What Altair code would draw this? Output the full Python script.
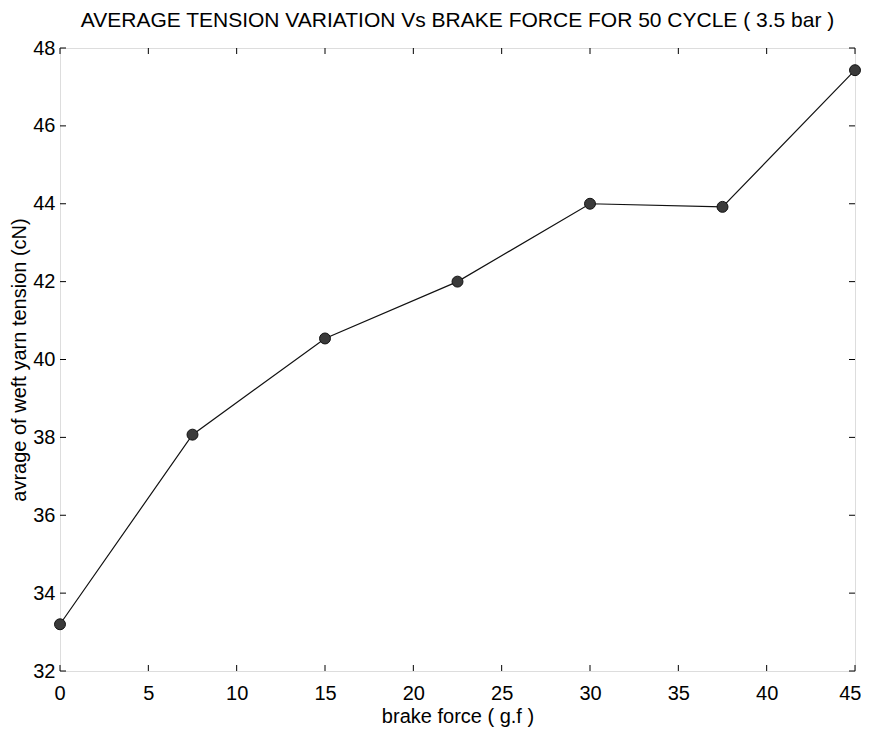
import altair as alt
import pandas as pd

# Data
brake_force = [0, 7.5, 15, 22.5, 30, 37.5, 45]
avg_tension = [33.2, 38.07, 40.54, 42.0, 44.0, 43.92, 47.43]
x_tick_values = [0, 5, 10, 15, 20, 25, 30, 35, 40, 45]
y_tick_values = [32, 34, 36, 38, 40, 42, 44, 46, 48]

title_text = "AVERAGE TENSION VARIATION  Vs  BRAKE FORCE FOR 50 CYCLE ( 3.5 bar )"
x_title = "brake force ( g.f )"
y_title = "avrage of weft yarn tension (cN)"

W, H = 795, 623
FONT = "Liberation Sans"
TICK = 6

df = pd.DataFrame({"x": brake_force, "y": avg_tension})
xt = pd.DataFrame({"v": x_tick_values})
yt = pd.DataFrame({"v": y_tick_values})

xscale = alt.Scale(domain=[0, 45], nice=False, zero=False)
yscale = alt.Scale(domain=[32, 48], nice=False, zero=False)

xaxis = alt.Axis(values=x_tick_values, title=x_title, ticks=False, domain=False, grid=False,
                 labelFont=FONT, labelFontSize=20, labelColor="black", labelPadding=12,
                 labelFlush=1, labelFlushOffset=6,
                 titleFont=FONT, titleFontSize=20, titleFontWeight="normal", titleColor="black",
                 titlePadding=3)
yaxis = alt.Axis(values=y_tick_values, title=y_title, ticks=False, domain=False, grid=False,
                 labelFont=FONT, labelFontSize=20, labelColor="black", labelPadding=5,
                 labelFlush=False,
                 titleFont=FONT, titleFontSize=20, titleFontWeight="normal", titleColor="black",
                 titlePadding=3)

X = lambda f: alt.X(f, scale=xscale, axis=xaxis)
Y = lambda f: alt.Y(f, scale=yscale, axis=yaxis)

line = alt.Chart(df).mark_line(color="#111111", strokeWidth=1.2).encode(x=X("x:Q"), y=Y("y:Q"))
points = alt.Chart(df).mark_circle(size=120, color="#3a3a3a", opacity=1,
                                   stroke="#111111", strokeWidth=1).encode(x=X("x:Q"), y=Y("y:Q"))

xt_bottom = alt.Chart(xt).mark_rule(color="black", strokeWidth=1).encode(
    x=X("v:Q"), y=alt.value(H), y2=alt.value(H - TICK))
xt_top = alt.Chart(xt).mark_rule(color="black", strokeWidth=1).encode(
    x=X("v:Q"), y=alt.value(0), y2=alt.value(TICK))
yt_left = alt.Chart(yt).mark_rule(color="black", strokeWidth=1).encode(
    y=Y("v:Q"), x=alt.value(0), x2=alt.value(TICK))
yt_right = alt.Chart(yt).mark_rule(color="black", strokeWidth=1).encode(
    y=Y("v:Q"), x=alt.value(W), x2=alt.value(W - TICK))

chart = alt.layer(xt_bottom, xt_top, yt_left, yt_right, line, points).properties(
    width=W, height=H,
    title=alt.TitleParams(title_text, font=FONT, fontSize=21, fontWeight="normal",
                          color="black", anchor="middle", baseline="alphabetic",
                          offset=0, dy=10),
    autosize=alt.AutoSizeParams(type="none"),
    padding={"left": 52, "top": 40, "right": 6, "bottom": 59},
).configure_view(stroke="black", strokeWidth=1.2).configure(background="white")

chart.save("out.html", embed_options={"renderer": "svg", "actions": False})
